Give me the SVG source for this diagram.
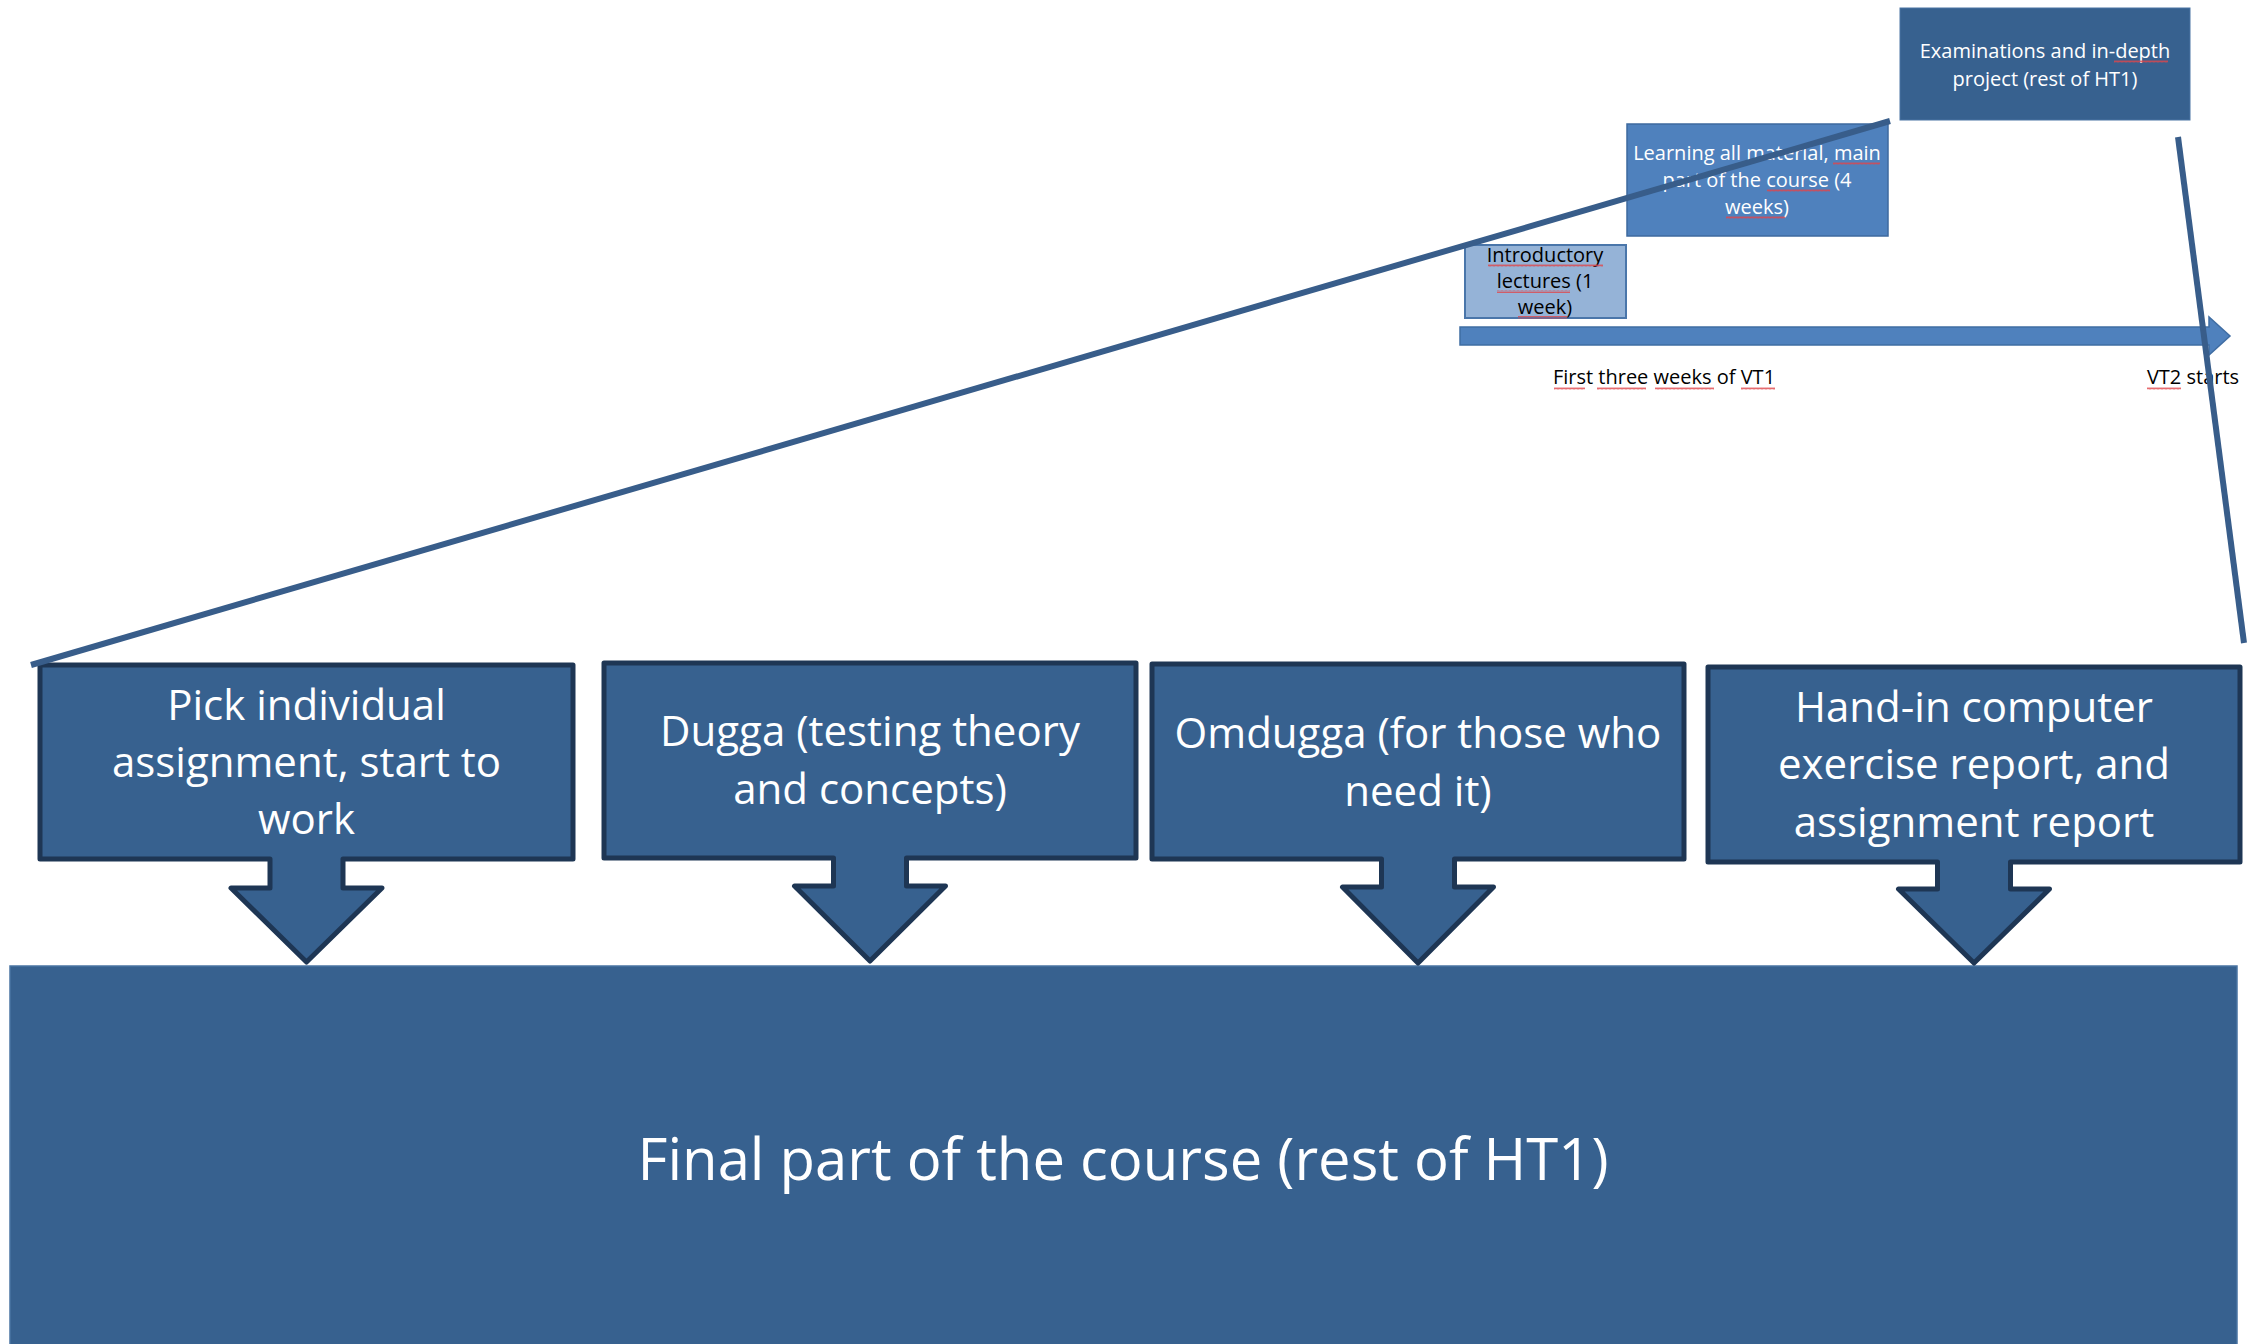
<svg xmlns="http://www.w3.org/2000/svg" width="2263" height="1344" viewBox="0 0 2263 1344">
<defs>
<pattern id="wavy" width="4" height="3" patternUnits="userSpaceOnUse"><path d="M0,2.5 L1,0.5 L2,2.5 L3,0.5 L4,2.5" fill="none" stroke="#e0464b" stroke-width="0.8"/></pattern>
</defs>
<style>
.callout{fill:#37618f;stroke:#1e3654;stroke-width:5;stroke-linejoin:round}
.ct{font-family:"Open Sans",Lato,sans-serif;font-size:42px;fill:#ffffff;text-anchor:middle}
.st{font-family:"Open Sans",Lato,sans-serif;font-size:20px;text-anchor:middle}
.w{fill:#ffffff}
.k{fill:#000000}
.conn{stroke:#385d8a;stroke-width:6;fill:none;stroke-linecap:butt}
.sq{fill:url(#wavy)}
</style>
<rect width="2263" height="1344" fill="#ffffff"/>

<g id="final-part">
<rect x="10" y="966" width="2227" height="390" fill="#37618f" stroke="#4a74a3" stroke-width="1.5"/>
<text class="ct" x="1123" y="1180" style="font-size:58px">Final part of the course (rest of HT1)</text>
</g>

<g id="timeline">
<polygon points="1460,327 2209,327 2209,317 2230,336 2209,355 2209,345 1460,345" fill="#4f81bd" stroke="#3f6da3" stroke-width="1.5"/>
<text class="st k" x="1664" y="384">First three weeks of VT1</text>
<text class="st k" x="2193" y="384">VT2 starts</text>
<rect class="sq" x="1554" y="387" width="31" height="3"/>
<rect class="sq" x="1597" y="387" width="49" height="3"/>
<rect class="sq" x="1655" y="387" width="59" height="3"/>
<rect class="sq" x="1741" y="387" width="34" height="3"/>
<rect class="sq" x="2147" y="387" width="34" height="3"/>
</g>

<g id="intro">
<rect x="1465" y="245" width="161" height="73" fill="#95b3d7" stroke="#4a76aa" stroke-width="2"/>
<text class="st k" x="1545" y="262">Introductory</text>
<text class="st k" x="1545" y="288">lectures (1</text>
<text class="st k" x="1545" y="314">week)</text>
<rect class="sq" x="1488" y="264" width="115" height="3"/>
<rect class="sq" x="1497" y="290" width="73" height="3"/>
<rect class="sq" x="1518" y="316" width="49" height="3"/>
</g>

<g id="learning">
<rect x="1627" y="124" width="261" height="112" fill="#4f81bd" stroke="#3e6a9f" stroke-width="1.5"/>
<text class="st w" x="1757" y="160">Learning all material, main</text>
<text class="st w" x="1757" y="187">part of the course (4</text>
<text class="st w" x="1757" y="214">weeks)</text>
<rect class="sq" x="1833" y="162" width="47" height="3"/>
<rect class="sq" x="1767" y="189" width="63" height="3"/>
<rect class="sq" x="1726" y="216" width="59" height="3"/>
</g>

<g id="exam">
<rect x="1900" y="8" width="290" height="112" fill="#37618f" stroke="#4a74a3" stroke-width="1"/>
<text class="st w" x="2045" y="58">Examinations and in-depth</text>
<text class="st w" x="2045" y="86">project (rest of HT1)</text>
<rect class="sq" x="2114" y="60" width="54" height="3"/>
</g>

<g id="pick">
<path class="callout" d="M40,665 H573 V859 H343 V888 H382 L306.5,962 L231,888 H270 V859 H40 Z"/>
<text class="ct" x="306.5" y="720">Pick individual</text>
<text class="ct" x="306.5" y="777">assignment, start to</text>
<text class="ct" x="306.5" y="834">work</text>
</g>

<g id="dugga">
<path class="callout" d="M604,663 H1136 V858 H906.5 V886 H945.5 L870,961 L794.5,886 H833.5 V858 H604 Z"/>
<text class="ct" x="870" y="746">Dugga (testing theory</text>
<text class="ct" x="870" y="804">and concepts)</text>
</g>

<g id="omdugga">
<path class="callout" d="M1152,664 H1684 V859 H1454.5 V887 H1493.5 L1418,963 L1342.5,887 H1381.5 V859 H1152 Z"/>
<text class="ct" x="1418" y="748">Omdugga (for those who</text>
<text class="ct" x="1418" y="806">need it)</text>
</g>

<g id="handin">
<path class="callout" d="M1708,667 H2240 V862 H2010.5 V889 H2049.5 L1974,963 L1898.5,889 H1937.5 V862 H1708 Z"/>
<text class="ct" x="1974" y="722">Hand-in computer</text>
<text class="ct" x="1974" y="779">exercise report, and</text>
<text class="ct" x="1974" y="837">assignment report</text>
</g>

<g id="connectors">
<line class="conn" x1="31" y1="665" x2="1890" y2="121"/>
<line class="conn" x1="2178" y1="137" x2="2244" y2="643"/>
</g>
</svg>
